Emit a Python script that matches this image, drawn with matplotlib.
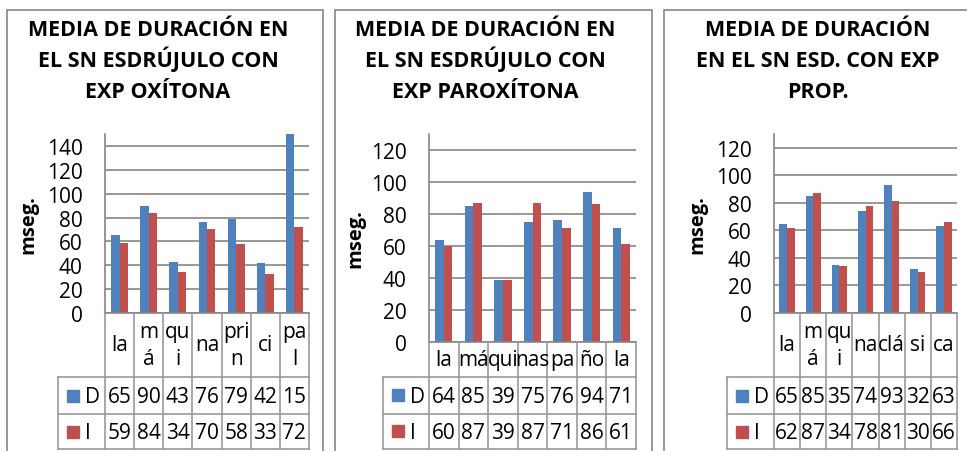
import matplotlib.pyplot as plt
from matplotlib.patches import Rectangle

plt.rcParams['font.family'] = ['Open Sans', 'DejaVu Sans']

# data
cats1 = ['la', 'm\ná', 'qu\ni', 'na', 'pri\nn', 'ci', 'pa\nl']
d1 = [65, 90, 43, 76, 79, 42, 150]
i1 = [59, 84, 34, 70, 58, 33, 72]

cats2 = ['la', 'má', 'qui', 'nas', 'pa', 'ño', 'la']
d2 = [64, 85, 39, 75, 76, 94, 71]
i2 = [60, 87, 39, 87, 71, 86, 61]

cats3 = ['la', 'm\ná', 'qu\ni', 'na', 'clá', 'si', 'ca']
d3 = [65, 85, 35, 74, 93, 32, 63]
i3 = [62, 87, 34, 78, 81, 30, 66]

titles = [['MEDIA DE DURACIÓN EN', 'EL SN ESDRÚJULO CON', 'EXP OXÍTONA'],
          ['MEDIA DE DURACIÓN EN', 'EL SN ESDRÚJULO CON', 'EXP PAROXÍTONA'],
          ['MEDIA DE DURACIÓN', 'EN EL SN ESD. CON EXP', 'PROP.']]
ymaxs = [150, 130, 130]
yticks = [range(0, 141, 20), range(0, 121, 20), range(0, 121, 20)]

blue = '#4F81BD'
red = '#C0504D'
grey = '#868686'

W, H = 967, 452
fig = plt.figure(figsize=(W / 100, H / 100), dpi=100)


def fx(x):
    return x / W


def fy(y):
    return 1 - y / H


# pixel layout of each panel
layout = [
    dict(bl=7, br=323, xa=105, xr=309, y0=314, yt=135, leg=58, tcx=158, ylx=28),
    dict(bl=335, br=652, xa=429, xr=636, y0=343, yt=135, leg=383, tcx=485, ylx=355),
    dict(bl=664, br=990, xa=774, xr=957, y0=314, yt=135, leg=727, tcx=818, ylx=697),
]
r1, r2, r3 = 378, 415, 450  # table row bottoms

series = [(cats1, d1, i1), (cats2, d2, i2), (cats3, d3, i3)]
fs = 15
bw = 0.29

for k, (L, (cats, dv, iv)) in enumerate(zip(layout, series)):
    # panel frame
    fig.patches.append(Rectangle((fx(L['bl']), fy(470)), fx(L['br'] - L['bl']), (470 - 11) / H,
                                 transform=fig.transFigure, fill=False, ec=grey, lw=1.2))
    for n, line in enumerate(titles[k]):
        fig.text(fx(L['tcx']), fy(36 + 31 * n), line, ha='center', va='baseline',
                 fontsize=15.5, fontweight='bold')
    fig.text(fx(L['ylx']), fy((L['y0'] + L['yt']) / 2), 'mseg.', rotation=90, ha='center',
             va='center', fontsize=14.5, fontweight='bold')

    ax = fig.add_axes([fx(L['xa']), fy(L['y0']), fx(L['xr'] - L['xa']), (L['y0'] - L['yt']) / H])
    x = list(range(len(cats)))
    ax.bar([p - bw / 2 for p in x], dv, bw, color=blue)
    ax.bar([p + bw / 2 for p in x], iv, bw, color=red)
    ax.set_xlim(-0.5, len(cats) - 0.5)
    ax.set_ylim(0, ymaxs[k])
    ax.set_yticks(list(yticks[k]))
    ax.set_xticks([])
    ax.yaxis.grid(True, color=grey, lw=1.2)
    ax.set_axisbelow(True)
    ax.tick_params(axis='y', length=0, pad=16, labelsize=fs)
    for s in ['top', 'right']:
        ax.spines[s].set_visible(False)
    for s in ['left', 'bottom']:
        ax.spines[s].set_color(grey)
        ax.spines[s].set_linewidth(1.2)

    # data table under the bars
    colw = (L['xr'] - L['xa']) / len(cats)
    lw = (L['xa'] - L['leg']) / colw
    tax = fig.add_axes([fx(L['leg']), fy(r3), fx(L['xr'] - L['leg']), (r3 - L['y0']) / H])
    tax.set_xlim(-0.5 - lw, len(cats) - 0.5)
    tax.set_ylim(r3, L['y0'])
    tax.axis('off')
    lc = '#999999'
    for j in range(len(cats) + 1):
        tax.plot([j - 0.5, j - 0.5], [L['y0'], r3], color=lc, lw=1.2, clip_on=False)
    tax.plot([-0.5 - lw] * 2, [r1, r3], color=lc, lw=1.2, clip_on=False)
    for yy in [r1, r2, r3]:
        tax.plot([-0.5 - lw, len(cats) - 0.5], [yy, yy], color=lc, lw=1.2, clip_on=False)

    for j, c in enumerate(cats):
        tax.text(j, (L['y0'] + r1) / 2, c, ha='center', va='center', fontsize=fs, linespacing=1.4)
        # third digit of 150 is cut off by the narrow cell in the original
        tax.text(j, (r1 + r2) / 2 + 1, str(dv[j])[:2], ha='center', va='center', fontsize=fs)
        tax.text(j, (r2 + r3) / 2 + 1, str(iv[j])[:2], ha='center', va='center', fontsize=fs)

    for yy, col, lab in [((r1 + r2) / 2, blue, 'D'), ((r2 + r3) / 2, red, 'I')]:
        tax.plot(-0.5 - lw + 14.5 / colw, yy, 's', color=col, ms=8.5, clip_on=False)
        tax.text(-0.5 - lw + 27 / colw, yy + 1, lab, ha='left', va='center', fontsize=fs)

fig.savefig('out.png', dpi=100)
